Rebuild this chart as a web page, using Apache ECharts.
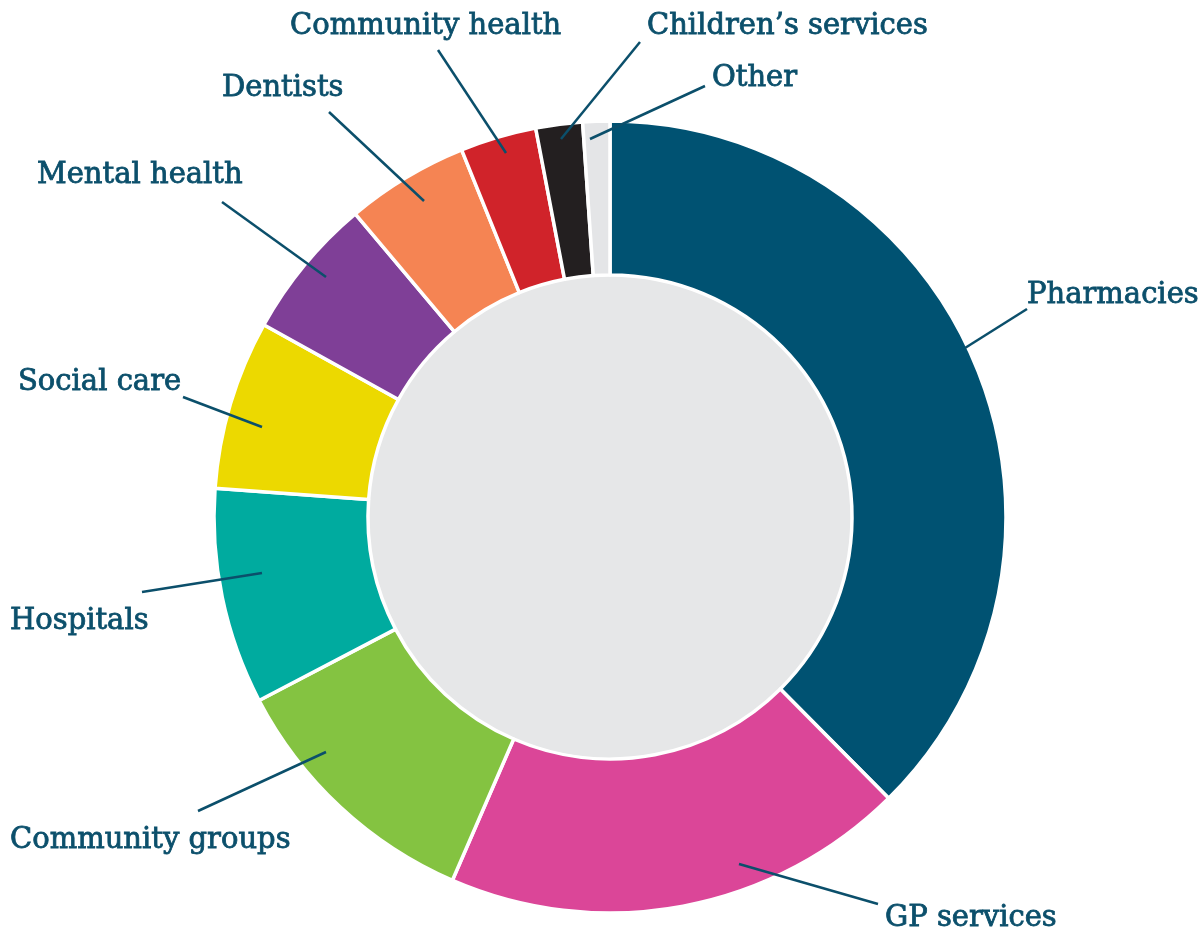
<!DOCTYPE html>
<html>
<head>
<meta charset="utf-8">
<title>Services</title>
<script src="https://cdn.jsdelivr.net/npm/echarts@6/dist/echarts.min.js"></script>
<style>
  html, body { margin: 0; padding: 0; background: #ffffff; }
  #chart { width: 1202px; height: 930px; }
</style>
</head>
<body>
<div id="chart"></div>
<script>
// Share of mentions by service type (%)
const categories = [
  'Pharmacies', 'GP services', 'Community groups', 'Hospitals', 'Social care',
  'Mental health', 'Dentists', 'Community health', 'Children\u2019s services', 'Other'
];
const shares = [37.5, 18.9, 10.8, 8.8, 6.9, 5.8, 5.0, 3.1, 1.9, 1.1];
const sliceColors = [
  '#005272', '#db4698', '#84c341', '#00ab9f', '#ecd900',
  '#7f3f97', '#f58453', '#d0232a', '#231f20', '#e4e5e7'
];

// Callout geometry: label anchor (left, middle) and leader line from slice to label
const callouts = [
  { label: [1027, 295], from: [965, 348], to: [1027, 309] },
  { label: [885, 918],  from: [739, 864], to: [878, 904] },
  { label: [10, 840],   from: [326, 752], to: [198, 811] },
  { label: [10, 621],   from: [262, 573], to: [142, 592] },
  { label: [18, 382],   from: [262, 427], to: [183, 397] },
  { label: [37, 175],   from: [326, 277], to: [222, 202] },
  { label: [222, 88],   from: [424, 201], to: [329, 112] },
  { label: [290, 26],   from: [506, 153], to: [438, 50] },
  { label: [647, 26],   from: [561, 139], to: [640, 42] },
  { label: [712, 78],   from: [590, 139], to: [705, 86] }
];

const ink = '#0b4f6b';
const center = [610, 517];
const ring = [242, 396];

const sliceData = categories.map(function (name, i) {
  return { name: name, value: shares[i], itemStyle: { color: sliceColors[i] } };
});

const chart = echarts.init(document.getElementById('chart'), null, { renderer: 'canvas' });

chart.setOption({
  backgroundColor: '#ffffff',
  animation: false,
  series: [
    {
      // light grey disc filling the hole of the ring
      type: 'pie',
      center: center,
      radius: [0, 241],
      silent: true,
      label: { show: false },
      labelLine: { show: false },
      itemStyle: { color: '#e6e7e8' },
      data: [{ value: 1, name: '' }]
    },
    {
      // coloured ring
      type: 'pie',
      center: center,
      radius: ring,
      startAngle: 90,
      clockwise: true,
      silent: true,
      itemStyle: { borderColor: '#ffffff', borderWidth: 3.5 },
      label: { show: false },
      labelLine: { show: false },
      data: sliceData
    },
    {
      // same slices, invisible, carrying the callouts on top of the ring
      type: 'pie',
      z: 5,
      center: center,
      radius: ring,
      startAngle: 90,
      clockwise: true,
      avoidLabelOverlap: false,
      silent: true,
      itemStyle: { color: 'rgba(0,0,0,0)', borderWidth: 0 },
      label: {
        show: true,
        position: 'outside',
        formatter: '{b}',
        color: ink,
        fontFamily: 'DejaVu Serif',
        fontSize: 29,
        fontWeight: 'normal',
        textBorderColor: ink,
        textBorderWidth: 0.8
      },
      labelLine: {
        show: true,
        showAbove: true,
        smooth: false,
        length: 10,
        length2: 10,
        lineStyle: { color: ink, width: 2.5 }
      },
      labelLayout: function (params) {
        const c = callouts[params.dataIndex];
        return {
          x: c.label[0],
          y: c.label[1],
          align: 'left',
          verticalAlign: 'middle',
          labelLinePoints: [c.from, c.to, c.to]
        };
      },
      data: categories.map(function (name, i) {
        return { name: name, value: shares[i] };
      })
    }
  ]
});
</script>
</body>
</html>
